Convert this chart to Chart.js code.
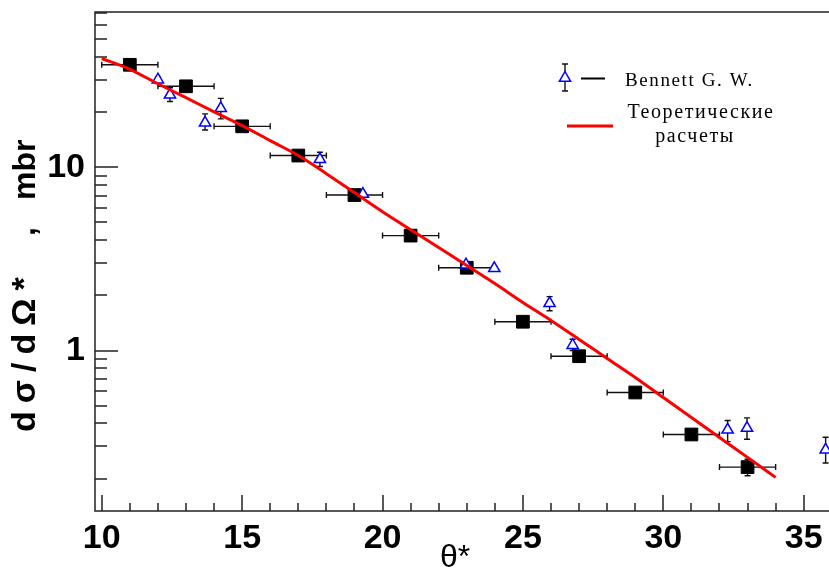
<!DOCTYPE html>
<html><head><meta charset="utf-8">
<script src="https://cdn.jsdelivr.net/npm/chart.js@4/dist/chart.umd.min.js"></script>
<style>html,body{margin:0;padding:0;background:#fff;}#wrap{width:829px;height:571px;position:relative;}</style>
</head><body><div id="wrap"><canvas id="c" width="829" height="571"></canvas></div>
<script>
// ---- data ----
const xTickValues = [10, 15, 20, 25, 30, 35];
const xMinorTicks = [11,12,13,14,16,17,18,19,21,22,23,24,26,27,28,29,31,32,33,34];
const yTickValues = [1, 10];
const yMinorTicks = [0.2,0.3,0.4,0.5,0.6,0.7,0.8,0.9,2,3,4,5,6,7,8,9,20,30,40,50,60,70];

// this work (black squares)
const sqX    = [11, 13, 15, 17, 19, 21, 23, 25, 27, 29, 31, 33];
const sqY    = [36.3, 27.7, 16.75, 11.6, 7.06, 4.24, 2.83, 1.436, 0.931, 0.590, 0.348, 0.231];
const sqXErr = [1, 1, 1, 1, 1, 1, 1, 1, 1, 1, 1, 1];
const sqYLo  = [35.2, 26.9, 16.3, 11.3, 6.87, 4.12, 2.75, 1.39, 0.90, 0.57, 0.330, 0.207];
const sqYHi  = [37.4, 28.5, 17.2, 11.9, 7.25, 4.36, 2.91, 1.48, 0.96, 0.61, 0.367, 0.255];

// Bennett G. W. (blue open triangles)
const triX  = [12.0, 12.43, 13.68, 14.24, 17.77, 19.3, 22.97, 23.98, 25.95, 26.77, 32.29, 32.98, 35.78];
const triY  = [30.1, 24.9, 17.5, 21.0, 11.06, 7.15, 2.94, 2.81, 1.81, 1.07, 0.369, 0.377, 0.287];
const triLo = [29.0, 22.9, 16.0, 18.4, 10.1, 6.95, 2.86, 2.74, 1.65, 1.0, 0.318, 0.328, 0.243];
const triHi = [31.2, 27.2, 19.6, 23.8, 12.1, 7.35, 3.02, 2.88, 1.97, 1.152, 0.415, 0.429, 0.336];

// theoretical calculation (red line)
const thX = [10,11,12,13,14,15,16,17,18,19,20,21,22,23,24,25,26,27,28,29,30,31,32,33,34];
const thY = [39.3,34.3,28.6,24.0,20.1,16.9,14.0,11.6,9.24,7.28,5.73,4.57,3.65,2.91,2.32,1.83,1.46,1.15,0.905,0.713,0.554,0.431,0.335,0.261,0.203];

const legendBennett = 'Bennett G. W.';
const legendTheory = ['Теоретические', 'расчеты'];
const yTitleParts = ['dσ/dΩ*', ',', 'mbr'];
const xTitle = 'θ*';

// ---- plugin: frame, ticks, error bars, titles, legend ----
const decor = {
  id: 'decor',
  beforeDatasetsDraw(chart) {
    const ctx = chart.ctx, a = chart.chartArea;
    const xs = chart.scales.x, ys = chart.scales.y;
    ctx.save();
    ctx.strokeStyle = '#222';
    ctx.lineWidth = 1.5;
    ctx.beginPath();
    ctx.moveTo(a.right + 2, a.top); ctx.lineTo(a.left, a.top);
    ctx.lineTo(a.left, a.bottom); ctx.lineTo(a.right + 2, a.bottom);
    ctx.stroke();
    ctx.beginPath();
    yTickValues.forEach(v => { const p = Math.round(ys.getPixelForValue(v)); ctx.moveTo(a.left, p); ctx.lineTo(a.left + 23, p); });
    yMinorTicks.forEach(v => { const p = Math.round(ys.getPixelForValue(v)); ctx.moveTo(a.left, p); ctx.lineTo(a.left + 12, p); });
    xTickValues.forEach(v => { const p = Math.round(xs.getPixelForValue(v)); ctx.moveTo(p, a.bottom); ctx.lineTo(p, a.bottom - 16); });
    xMinorTicks.forEach(v => { const p = Math.round(xs.getPixelForValue(v)); ctx.moveTo(p, a.bottom); ctx.lineTo(p, a.bottom - 8); });
    ctx.stroke();

    ctx.strokeStyle = '#111';
    ctx.lineWidth = 1.4;
    ctx.beginPath();
    sqX.forEach((x, i) => {
      const y = ys.getPixelForValue(sqY[i]);
      const x1 = xs.getPixelForValue(x - sqXErr[i]), x2 = xs.getPixelForValue(x + sqXErr[i]);
      ctx.moveTo(x1, y); ctx.lineTo(x2, y);
      ctx.moveTo(x1, y - 3); ctx.lineTo(x1, y + 3);
      ctx.moveTo(x2, y - 3); ctx.lineTo(x2, y + 3);
      const px = xs.getPixelForValue(x);
      const y1 = ys.getPixelForValue(sqYLo[i]), y2 = ys.getPixelForValue(sqYHi[i]);
      ctx.moveTo(px, y1); ctx.lineTo(px, y2);
      ctx.moveTo(px - 3, y1); ctx.lineTo(px + 3, y1);
      ctx.moveTo(px - 3, y2); ctx.lineTo(px + 3, y2);
    });
    triX.forEach((x, i) => {
      const px = xs.getPixelForValue(x);
      const y1 = ys.getPixelForValue(triLo[i]), y2 = ys.getPixelForValue(triHi[i]);
      ctx.moveTo(px, y1); ctx.lineTo(px, y2);
      ctx.moveTo(px - 3, y1); ctx.lineTo(px + 3, y1);
      ctx.moveTo(px - 3, y2); ctx.lineTo(px + 3, y2);
    });
    ctx.stroke();
    ctx.restore();
  },
  afterDraw(chart) {
    const ctx = chart.ctx;
    ctx.save();
    ctx.fillStyle = '#000';
    ctx.translate(26, 0);
    ctx.rotate(-Math.PI / 2);
    ctx.textBaseline = 'middle'; ctx.textAlign = 'left';
    ctx.font = 'bold 34px "Liberation Sans", Arial, sans-serif';
    ctx.letterSpacing = '8px';
    ctx.fillText(yTitleParts[0], -432, 0);
    ctx.font = 'bold 32px "Liberation Sans", Arial, sans-serif';
    ctx.letterSpacing = '0px';
    ctx.fillText(yTitleParts[1], -236, 0);
    ctx.fillText(yTitleParts[2], -200, 0);
    ctx.restore();
    ctx.save();
    ctx.fillStyle = '#000';
    ctx.font = '32px "Liberation Sans", Arial, sans-serif';
    ctx.textAlign = 'center'; ctx.textBaseline = 'alphabetic';
    ctx.fillText(xTitle, 455, 567);
    // legend
    ctx.strokeStyle = '#111'; ctx.lineWidth = 1.4;
    ctx.beginPath();
    ctx.moveTo(565, 64); ctx.lineTo(565, 91);
    ctx.moveTo(562, 64); ctx.lineTo(568, 64);
    ctx.moveTo(562, 91); ctx.lineTo(568, 91);
    ctx.stroke();
    ctx.fillStyle = '#fff'; ctx.strokeStyle = '#0000ff'; ctx.lineWidth = 1.5;
    ctx.beginPath();
    ctx.moveTo(565, 71.5); ctx.lineTo(570.6, 81.3); ctx.lineTo(559.4, 81.3); ctx.closePath();
    ctx.fill(); ctx.stroke();
    ctx.strokeStyle = '#000'; ctx.lineWidth = 2;
    ctx.beginPath(); ctx.moveTo(581, 78.5); ctx.lineTo(605, 78.5); ctx.stroke();
    ctx.strokeStyle = '#ff0000'; ctx.lineWidth = 3;
    ctx.beginPath(); ctx.moveTo(567, 126); ctx.lineTo(613, 126); ctx.stroke();
    ctx.fillStyle = '#000';
    ctx.font = '19px "Liberation Serif", "Times New Roman", serif';
    ctx.letterSpacing = '1.6px';
    ctx.textAlign = 'left';
    ctx.fillText(legendBennett, 625, 86);
    ctx.font = '20px "Liberation Serif", "Times New Roman", serif';
    ctx.textAlign = 'center';
    ctx.letterSpacing = '1.6px';
    ctx.fillText(legendTheory[0], 701, 118);
    ctx.fillText(legendTheory[1], 695, 142);
    ctx.restore();
  }
};

const tickFont = { family: '"Liberation Sans", Arial, sans-serif', weight: 'bold', size: 34 };
const zeroPad = s => { s.paddingTop = 0; s.paddingBottom = 0; s.paddingLeft = 0; s.paddingRight = 0; };

new Chart(document.getElementById('c'), {
  type: 'scatter',
  data: {
    datasets: [
      {
        label: 'Теоретические расчеты',
        data: thX.map((x, i) => ({ x, y: thY[i] })),
        showLine: true, borderColor: '#ff0000', borderWidth: 3, pointRadius: 0,
        cubicInterpolationMode: 'monotone', order: 0, clip: false
      },
      {
        label: 'Bennett G. W.',
        data: triX.map((x, i) => ({ x, y: triY[i] })),
        pointStyle: 'triangle', pointRadius: 6.5, borderColor: '#0000ff',
        backgroundColor: '#ffffff', borderWidth: 1.5, order: 1, clip: false
      },
      {
        label: 'this work',
        data: sqX.map((x, i) => ({ x, y: sqY[i] })),
        pointStyle: 'rect', pointRadius: 9, borderColor: '#000',
        backgroundColor: '#000', borderWidth: 1, order: 2, clip: false
      }
    ]
  },
  options: {
    responsive: false, animation: false,
    layout: { autoPadding: false, padding: { top: 12, right: 0, left: 0, bottom: 0 } },
    plugins: { legend: { display: false }, tooltip: { enabled: false } },
    scales: {
      x: {
        type: 'linear', min: 9.76, max: 35.9, position: 'bottom',
        afterBuildTicks: s => { s.ticks = xTickValues.map(v => ({ value: v })); },
        afterFit: s => { s.height = 60; zeroPad(s); },
        grid: { display: false, drawTicks: false }, border: { display: false },
        ticks: { font: tickFont, color: '#000', padding: 7, maxRotation: 0, autoSkip: false, callback: v => String(v) }
      },
      y: {
        type: 'logarithmic', min: 0.133, max: 70.5,
        afterBuildTicks: s => { s.ticks = yTickValues.map(v => ({ value: v })); },
        afterFit: s => { s.width = 95; zeroPad(s); },
        grid: { display: false, drawTicks: false }, border: { display: false },
        ticks: { font: tickFont, color: '#000', padding: 10, autoSkip: false, callback: v => String(v) }
      }
    }
  },
  plugins: [decor]
});
</script>
</body></html>
